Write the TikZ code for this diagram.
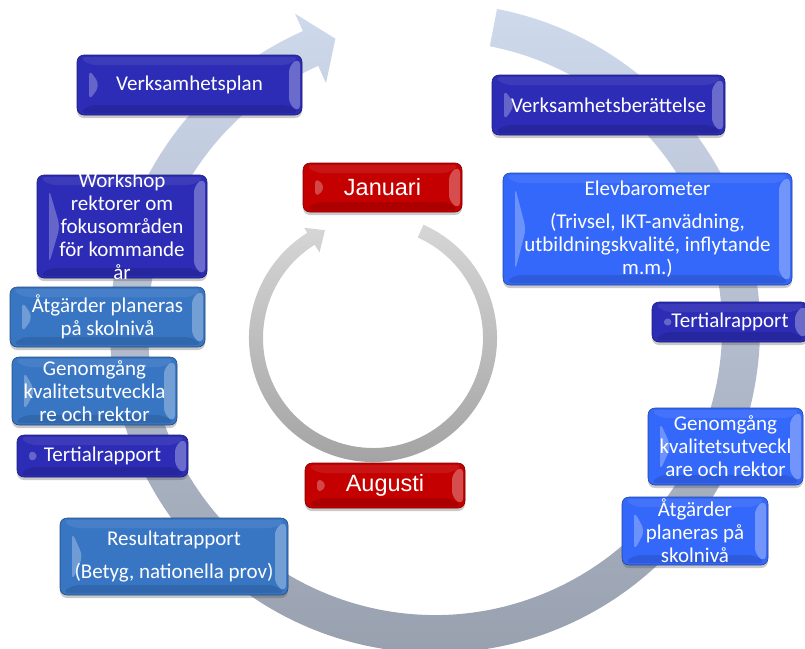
\documentclass[tikz,border=0pt]{standalone}
\usepackage{fontspec}
\setmainfont{Carlito}
\newfontfamily\arialf{Liberation Sans}
\usetikzlibrary{shadows,calc}
\definecolor{dkblue}{RGB}{44,44,182}
\definecolor{mdblue}{RGB}{56,118,196}
\definecolor{brblue}{RGB}{52,104,250}
\definecolor{redbox}{RGB}{196,0,0}
\definecolor{ringtop}{RGB}{206,217,236}
\definecolor{ringbot}{RGB}{150,158,172}
\definecolor{sringtop}{RGB}{214,214,214}
\definecolor{sringbot}{RGB}{160,160,160}
\tikzset{
  bevel/.style={path picture={
    \path (path picture bounding box.north west) coordinate (bnw)
          (path picture bounding box.north east) coordinate (bne)
          (path picture bounding box.south west) coordinate (bsw)
          (path picture bounding box.south east) coordinate (bse)
          (path picture bounding box.west) coordinate (bw);
    \fill[white,opacity=0.08] ($(bnw)+(2pt,-2pt)$) -- ($(bne)+(-2pt,-2pt)$) -- ($(bne)+(-13pt,-10pt)$) -- ($(bnw)+(12pt,-10pt)$) -- cycle;
    \fill[white,opacity=0.28] ($(bnw)+(12pt,-14pt)$) -- ($(bw)+(23pt,0pt)$) -- ($(bsw)+(12pt,14pt)$) -- cycle;
    \fill[white,opacity=0.3] ($(bne)+(-13pt,-10pt)$) -- ($(bne)+(-2pt,-3pt)$) -- ($(bse)+(-2pt,3pt)$) -- ($(bse)+(-13pt,10pt)$) -- cycle;
    \fill[black,opacity=0.12] ($(bsw)+(2pt,2pt)$) -- ($(bse)+(-2pt,2pt)$) -- ($(bse)+(-13pt,10pt)$) -- ($(bsw)+(12pt,10pt)$) -- cycle;
  }},
  boxbase/.style={rounded corners=7pt, draw=#1!65!black, line width=0.6pt, fill=#1,
    drop shadow={shadow xshift=0pt, shadow yshift=-3pt, opacity=0.3, fill=black!70},
    bevel, inner sep=0pt},
  darkbox/.style={boxbase=dkblue},
  midbox/.style={boxbase=mdblue},
  brightbox/.style={boxbase=brblue},
  redstyle/.style={boxbase=redbox},
  boxtext/.style={text=white, font=\fontsize{21}{23}\selectfont, align=center, inner sep=0pt},
  redtext/.style={text=white, font=\arialf\fontsize{23.5}{26}\selectfont, align=center, inner sep=0pt},
}
\newcommand\bbox[6]{%
  \node[#2, minimum width=#4pt, minimum height=#5pt] (#1) at (#3) {};
  \node[boxtext] (#1t) at (#1.center) {#6};}
\newcommand\rbox[5]{%
  \node[redstyle, minimum width=#3pt, minimum height=#4pt] (#1) at (#2) {};
  \node[redtext] (#1t) at (#1.center) {#5};}
\begin{document}
\begin{tikzpicture}[x=1pt,y=-1pt]
\useasboundingbox (0,0) rectangle (805,648);
% big ring
\begin{scope}[shift={(435,328)}, yscale=-1]
  \shade[top color=ringtop, bottom color=ringbot]
    (79:325) arc[start angle=79, end angle=-246, radius=325]
    -- (-246:344) -- (-251:306) -- (-246:268) -- (-246:287)
    arc[start angle=-246, end angle=79, radius=287] -- cycle;
\end{scope}
% small ring
\begin{scope}[shift={(373,338)}, yscale=-1]
  \shade[top color=sringtop, bottom color=sringbot]
    (66:124) arc[start angle=66, end angle=-238, radius=124]
    -- (-238:130) -- (-246:118) -- (-238:101) -- (-238:110)
    arc[start angle=-238, end angle=66, radius=110] -- cycle;
\end{scope}
\bbox{vp}{darkbox}{189.5,85}{225}{60}{Verksamhetsplan}
\bbox{vb}{darkbox}{608.5,105}{233}{60}{Verksamhetsberättelse}
\rbox{jan}{382.5,187.5}{159}{49}{Januari}
\rbox{aug}{385,485.5}{160}{45}{Augusti}
\bbox{ws}{darkbox}{122,226.5}{170}{103}{Workshop\\rektorer om\\fokusområden\\för kommande\\år}
\bbox{atl}{midbox}{107.5,317}{195}{60}{Åtgärder planeras\\på skolnivå}
\bbox{gel}{midbox}{94.5,391}{165}{68}{Genomgång\\kvalitetsutveckla\\re och rektor}
\bbox{tl}{darkbox}{102.5,456}{171}{42}{Tertialrapport}
\bbox{rr}{midbox}{174,556.5}{228}{77}{Resultatrapport\\[10pt](Betyg, nationella prov)}
\bbox{eb}{brightbox}{647.5,229}{289}{112}{Elevbarometer\\[10pt](Trivsel, IKT-anvädning,\\utbildningskvalité, inflytande\\m.m.)}
\bbox{tr}{darkbox}{730,322}{156}{40}{Tertialrapport}
\bbox{ger}{brightbox}{725.5,446.5}{155}{77}{Genomgång\\kvalitetsutveckl\\are och rektor}
\bbox{atr}{brightbox}{695,531}{146}{68}{Åtgärder\\planeras på\\skolnivå}
\end{tikzpicture}
\end{document}
